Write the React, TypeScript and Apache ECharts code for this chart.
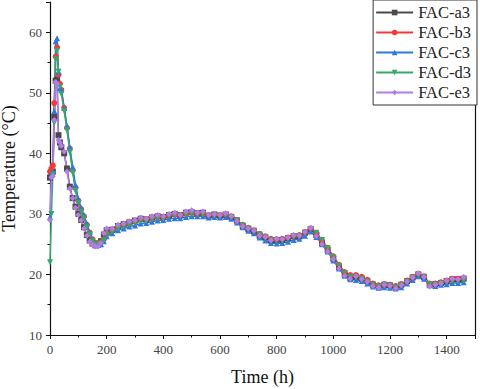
import React, { useEffect, useRef } from "react";
import * as echarts from "echarts";

const times = [0, 5, 10, 15, 20, 25, 30, 35, 40, 50, 60, 70, 80, 90, 100, 110, 120, 130, 140, 150, 160, 170, 180, 190, 200,
  220, 240, 260, 280, 300, 320, 340, 360, 380, 400, 420, 440, 460, 480, 500, 520, 540, 560, 580, 600, 620, 640, 660, 680, 700,
  720, 740, 760, 780, 800, 820, 840, 860, 880, 900, 920, 940, 960, 980, 1000, 1020, 1040, 1060, 1080, 1100, 1120, 1140, 1160,
  1180, 1200, 1220, 1240, 1260, 1280, 1300, 1320, 1340, 1360, 1380, 1400, 1420, 1440, 1460];

const a3 = [36.0, 36.5, 37.0, 46.0, 52.0, 52.2, 43.0, 41.8, 41.0, 40.0, 37.5, 34.5, 32.6, 31.2, 30.0, 29.0, 27.8, 26.5, 25.6, 25.1, 24.8, 24.9, 25.5, 26.6, 27.3,
  27.4, 28.0, 28.3, 28.6, 28.9, 29.2, 29.1, 29.4, 29.6, 29.5, 29.8, 30.0, 29.8, 30.2, 30.3, 30.1, 30.2, 29.7, 29.9, 29.7, 29.9, 29.5, 28.9, 28.0, 27.5,
  27.1, 26.4, 26.1, 25.6, 25.7, 25.7, 26.0, 26.3, 26.3, 26.9, 27.5, 26.5, 25.2, 24.0, 22.6, 21.2, 20.0, 19.4, 19.6, 19.3, 18.9, 18.3, 18.0,
  18.3, 18.2, 17.9, 18.3, 18.9, 19.5, 20.0, 19.6, 18.3, 18.4, 18.6, 18.9, 19.2, 19.2, 19.3];

const b3 = [37.0, 37.5, 38.0, 48.3, 56.0, 57.5, 53.0, 51.5, 50.5, 47.5, 44.2, 40.8, 37.2, 34.3, 32.2, 30.8, 29.6, 28.2, 26.9, 25.8, 25.2, 25.2, 25.3, 25.8, 26.8,
  27.3, 27.9, 28.2, 28.5, 28.8, 29.1, 29.1, 29.4, 29.5, 29.5, 29.8, 29.9, 29.8, 30.1, 30.2, 30.1, 30.1, 29.8, 29.9, 29.8, 29.9, 29.6, 29.0, 28.2, 27.7,
  27.3, 26.7, 26.3, 25.9, 25.8, 25.9, 26.1, 26.4, 26.5, 27.0, 27.6, 26.8, 25.6, 24.4, 23.0, 21.6, 20.4, 19.9, 19.9, 19.6, 19.1, 18.5, 18.2,
  18.4, 18.3, 18.1, 18.4, 19.0, 19.6, 20.1, 19.7, 18.5, 18.5, 18.7, 19.0, 19.3, 19.3, 19.4];

const c3 = [29.5, 36.5, 37.0, 47.0, 58.5, 59.0, 53.5, 50.8, 50.5, 47.5, 44.5, 41.0, 37.8, 34.8, 32.5, 31.0, 29.8, 28.4, 27.0, 25.8, 25.0, 24.9, 25.0, 25.5, 26.3,
  26.8, 27.3, 27.6, 27.9, 28.1, 28.4, 28.5, 28.7, 28.9, 29.0, 29.2, 29.3, 29.3, 29.5, 29.6, 29.6, 29.6, 29.4, 29.5, 29.4, 29.5, 29.2, 28.6, 27.8, 27.2,
  26.8, 26.1, 25.6, 25.2, 25.1, 25.2, 25.4, 25.7, 25.9, 26.4, 27.1, 26.2, 25.0, 23.8, 22.3, 21.0, 19.8, 19.2, 19.1, 18.9, 18.5, 18.0, 17.8,
  17.9, 17.8, 17.7, 17.9, 18.5, 19.1, 19.7, 19.3, 18.2, 18.1, 18.3, 18.4, 18.6, 18.6, 18.7];

const d3 = [22.0, 30.0, 36.5, 45.0, 55.5, 57.0, 53.5, 51.0, 49.8, 47.0, 43.8, 40.2, 36.8, 33.8, 31.8, 30.3, 29.3, 27.8, 26.6, 25.5, 25.0, 24.9, 25.1, 25.6, 26.6,
  27.0, 27.6, 27.9, 28.2, 28.5, 28.8, 28.8, 29.1, 29.3, 29.3, 29.6, 29.7, 29.6, 29.9, 30.0, 29.9, 29.9, 29.6, 29.7, 29.6, 29.8, 29.5, 28.9, 28.1, 27.6,
  27.2, 26.6, 26.1, 25.7, 25.6, 25.6, 25.9, 26.2, 26.3, 26.8, 27.5, 26.9, 25.7, 24.3, 22.8, 21.4, 20.2, 19.6, 19.5, 19.3, 18.8, 18.3, 18.0,
  18.2, 18.1, 17.9, 18.2, 18.8, 19.4, 19.9, 19.5, 18.4, 18.3, 18.5, 18.7, 18.9, 18.9, 19.0];

const e3 = [29.0, 36.0, 36.2, 45.5, 51.8, 51.5, 42.2, 41.8, 41.2, 40.3, 37.0, 34.2, 32.6, 31.0, 29.8, 28.9, 27.6, 26.4, 25.4, 24.9, 24.6, 24.6, 25.2, 26.8, 27.6,
  27.6, 28.2, 28.4, 28.8, 29.0, 29.4, 29.2, 29.6, 29.8, 29.6, 30.0, 30.2, 29.8, 30.4, 30.6, 30.2, 30.4, 29.8, 30.0, 29.8, 30.1, 29.6, 28.8, 27.9, 27.6,
  27.2, 26.4, 26.2, 25.6, 25.9, 25.8, 26.1, 26.5, 26.4, 27.0, 27.7, 26.3, 25.0, 23.8, 22.5, 21.0, 19.8, 19.3, 19.7, 19.2, 18.8, 18.1, 17.8,
  18.3, 18.1, 17.7, 18.2, 18.8, 19.5, 20.2, 19.6, 18.0, 18.3, 18.5, 19.0, 19.3, 19.2, 19.6];

const seriesNames = ["FAC-a3", "FAC-b3", "FAC-c3", "FAC-d3", "FAC-e3"];
const seriesValues = [a3, b3, c3, d3, e3];
const seriesColors = ["#4a4a4a", "#f23a3a", "#2f78dc", "#35a86a", "#b57be6"];
const seriesSymbols = ["rect", "circle", "triangle", "path://M0,0 L10,0 L5,9 Z", "diamond"];

const FONT = "Liberation Serif";

export default function App() {
  const ref = useRef<HTMLDivElement>(null);
  useEffect(() => {
    document.body.style.margin = "0";
    const chart = echarts.init(ref.current!, null, { renderer: "svg" });
    const labelFmt = (v: number) => String(v);
    chart.setOption({
      animation: false,
      backgroundColor: "#ffffff",
      textStyle: { fontFamily: FONT },
      grid: { left: 50, right: 5, top: 2, bottom: 54, outerBoundsMode: "none", containLabel: false },
      legend: {
        orient: "vertical",
        right: 3,
        top: 0,
        itemWidth: 37,
        itemHeight: 7,
        itemGap: 3,
        padding: [4, 6, 4, 2],
        borderColor: "#333",
        borderWidth: 1,
        backgroundColor: "#fff",
        textStyle: { fontFamily: FONT, fontSize: 16.5, color: "#222", lineHeight: 16 },
        data: seriesNames,
      },
      xAxis: {
        type: "value",
        min: 0,
        max: 1500,
        interval: 200,
        name: "Time (h)",
        nameLocation: "middle",
        nameGap: 33,
        nameTextStyle: { fontFamily: FONT, fontSize: 18, color: "#111" },
        axisLine: { show: true, lineStyle: { color: "#111", width: 1.2 } },
        axisTick: { show: true, length: 4, lineStyle: { color: "#111" } },
        minorTick: { show: true, splitNumber: 2, length: 2.5, lineStyle: { color: "#111" } },
        splitLine: { show: false },
        axisLabel: { fontFamily: FONT, fontSize: 13, color: "#444", margin: 8, showMaxLabel: false, formatter: labelFmt },
      },
      yAxis: [
        {
          type: "value",
          min: 10,
          max: 65,
          interval: 10,
          name: "Temperature (\u00b0C)",
          nameLocation: "middle",
          nameGap: 29,
          nameTextStyle: { fontFamily: FONT, fontSize: 18, color: "#111" },
          axisLine: { show: true, lineStyle: { color: "#111", width: 1.2 } },
          axisTick: { show: true, length: 4, lineStyle: { color: "#111" } },
          minorTick: { show: true, splitNumber: 2, length: 2.5, lineStyle: { color: "#111" } },
          splitLine: { show: false },
          axisLabel: { fontFamily: FONT, fontSize: 13, color: "#444", margin: 8, showMaxLabel: false, formatter: labelFmt },
        },
        {
          type: "value",
          min: 10,
          max: 65,
          position: "right",
          axisLine: { show: true, onZero: false, lineStyle: { color: "#111", width: 1.2 } },
          axisTick: { show: false },
          axisLabel: { show: false },
          splitLine: { show: false },
        },
      ],
      series: seriesNames.map((name, i) => ({
        name,
        type: "line",
        yAxisIndex: 0,
        data: times.map((t, j) => [t, seriesValues[i][j]]),
        symbol: seriesSymbols[i],
        symbolSize: 6,
        showAllSymbol: true,
        lineStyle: { color: seriesColors[i], width: 1.5 },
        itemStyle: { color: seriesColors[i] },
        color: seriesColors[i],
      })),
    });
    return () => chart.dispose();
  }, []);
  return <div ref={ref} style={{ position: "absolute", left: 0, top: 0, width: 480, height: 389 }} />;
}
